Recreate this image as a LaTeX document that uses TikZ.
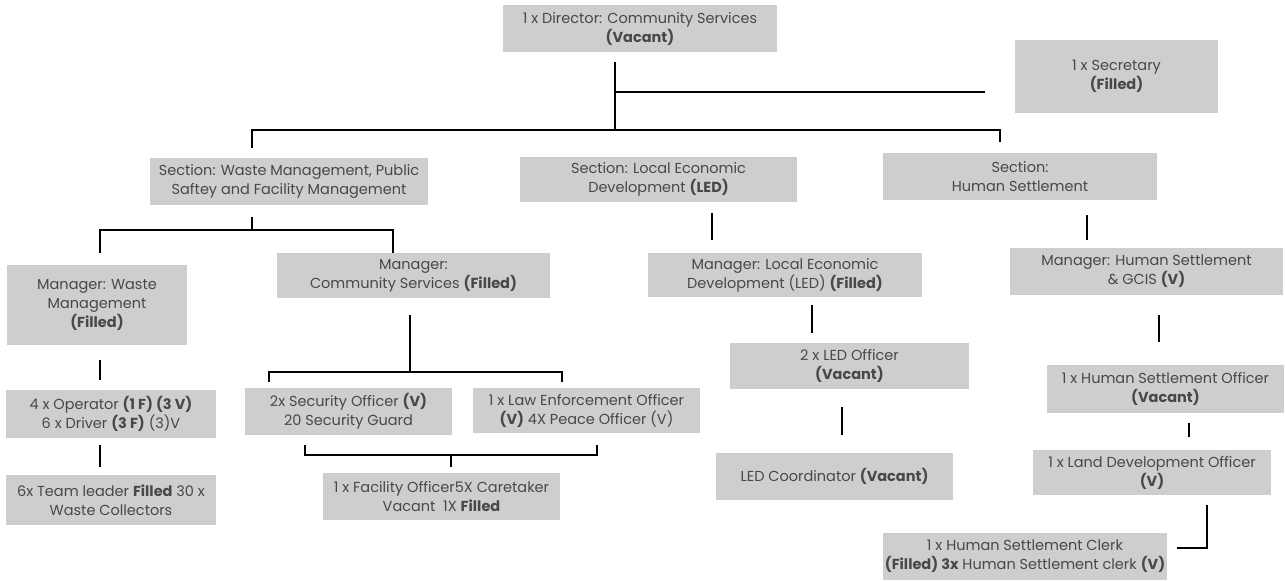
\documentclass[tikz,border=0pt]{standalone}
\usepackage{fontspec}
\setmainfont{Poppins}
\definecolor{boxfill}{RGB}{206,206,206}
\definecolor{ink}{RGB}{72,72,72}
\begin{document}
\begin{tikzpicture}[x=1pt,y=-1pt,
  post/.style={fill=boxfill,draw=none,inner sep=0pt,align=center,text=ink,
    font=\fontsize{14.5}{19}\selectfont},
  link/.style={draw=black,line width=1.1pt}]
\useasboundingbox[fill=white] (0,0) rectangle (1285,581);

% ---- posts ----
\node[post,minimum width=274,minimum height=47] (dir)   at (640,28.5)    {1 x Director: Community Services\\\textbf{(Vacant)}};
\node[post,minimum width=203,minimum height=73] (sec)   at (1116.5,76.5) {1 x Secretary\\\textbf{(Filled)}};
\node[post,minimum width=278,minimum height=47] (secW)  at (289,181.5)   {Section: Waste Management, Public\\Saftey and Facility Management};
\node[post,minimum width=277,minimum height=45] (secL)  at (658.5,179.5) {Section: Local Economic\\Development \textbf{(LED)}};
\node[post,minimum width=274,minimum height=47] (secH)  at (1020,176.5)  {Section:\\Human Settlement};
\node[post,minimum width=180,minimum height=80] (mW)    at (97,305)      {Manager: Waste\\Management\\\textbf{(Filled)}};
\node[post,minimum width=273,minimum height=45] (mC)    at (413.5,275.5) {Manager:\\Community Services \textbf{(Filled)}};
\node[post,minimum width=274,minimum height=44] (mL)    at (785,275)     {Manager: Local Economic\\Development (LED) \textbf{(Filled)}};
\node[post,minimum width=273,minimum height=47] (mH)    at (1146.5,271.5){Manager: Human Settlement\\\& GCIS \textbf{(V)}};
\node[post,minimum width=210,minimum height=48] (op)    at (111,414)     {4 x Operator \textbf{(1 F) (3 V)}\\6 x Driver \textbf{(3 F)} (3)V};
\node[post,minimum width=210,minimum height=50] (team)  at (111,500)     {6x Team leader \textbf{Filled} 30 x\\Waste Collectors};
\node[post,minimum width=207,minimum height=47] (secO)  at (348.5,411.5) {2x Security Officer \textbf{(V)}\\20 Security Guard};
\node[post,minimum width=227,minimum height=45] (law)   at (586.5,410.5) {1 x Law Enforcement Officer\\\textbf{(V)} 4X Peace Officer (V)};
\node[post,minimum width=237,minimum height=47] (fac)   at (441.5,496.5) {1 x Facility Officer5X Caretaker\\Vacant\ \ 1X \textbf{Filled}};
\node[post,minimum width=239,minimum height=46] (ledO)  at (849.5,366)   {2 x LED Officer\\\textbf{(Vacant)}};
\node[post,minimum width=237,minimum height=47] (ledC)  at (834.5,476.5) {LED Coordinator \textbf{(Vacant)}};
\node[post,minimum width=237,minimum height=48] (hsO)   at (1165.5,389)  {1 x Human Settlement Officer\\\textbf{(Vacant)}};
\node[post,minimum width=238,minimum height=45] (land)  at (1152,472.5)  {1 x Land Development Officer\\\textbf{(V)}};
\node[post,minimum width=284,minimum height=47] (clerk) at (1025,556.5)  {1 x Human Settlement Clerk\\\textbf{(Filled) 3x} Human Settlement clerk \textbf{(V)}};

% ---- line ends and junctions ----
\coordinate (dirA) at (615,62);   \coordinate (dirB) at (615,130);
\coordinate (dirS) at (615,92);   \coordinate (secE) at (985,92);
\coordinate (barL) at (252,130);  \coordinate (barR) at (1000,130);
\coordinate (barLd) at (252,148); \coordinate (barRd) at (1000,142);
\coordinate (wA) at (252,217);    \coordinate (wB) at (252,230);
\coordinate (wL) at (100,230);    \coordinate (wR) at (393,230);
\coordinate (wLd) at (100,253);   \coordinate (wRd) at (393,253);
\coordinate (lA) at (712,213);    \coordinate (lB) at (712,240);
\coordinate (hA) at (1087,215);   \coordinate (hB) at (1087,240);
\coordinate (mwA) at (100,360);   \coordinate (mwB) at (100,380);
\coordinate (opA) at (100,445);   \coordinate (opB) at (100,467);
\coordinate (mcA) at (410,315);   \coordinate (mcB) at (410,372);
\coordinate (mcL) at (269,372);   \coordinate (mcR) at (562,372);
\coordinate (mcLd) at (269,382);  \coordinate (mcRd) at (562,382);
\coordinate (brLu) at (305,445);  \coordinate (brRu) at (597,445);
\coordinate (brL) at (305,455);   \coordinate (brR) at (597,455);
\coordinate (brM) at (451,455);   \coordinate (brMd) at (451,467);
\coordinate (mlA) at (812,305);   \coordinate (mlB) at (812,333);
\coordinate (loA) at (842,407);   \coordinate (loB) at (842,435);
\coordinate (mhA) at (1159,315);  \coordinate (mhB) at (1159,342);
\coordinate (hoA) at (1189,423);  \coordinate (hoB) at (1189,437);
\coordinate (ldA) at (1207,505);  \coordinate (ldB) at (1207,548);
\coordinate (clE) at (1177,548);

% ---- connectors ----
\draw[link] (dirA) -- (dirB);
\draw[link] (dirS) -- (secE);
\draw[link] (barLd) -- (barL) -- (barR) -- (barRd);
\draw[link] (wA) -- (wB);
\draw[link] (wLd) -- (wL) -- (wR) -- (wRd);
\draw[link] (lA) -- (lB);
\draw[link] (hA) -- (hB);
\draw[link] (mwA) -- (mwB);
\draw[link] (opA) -- (opB);
\draw[link] (mcA) -- (mcB);
\draw[link] (mcLd) -- (mcL) -- (mcR) -- (mcRd);
\draw[link] (brLu) -- (brL) -- (brR) -- (brRu);
\draw[link] (brM) -- (brMd);
\draw[link] (mlA) -- (mlB);
\draw[link] (loA) -- (loB);
\draw[link] (mhA) -- (mhB);
\draw[link] (hoA) -- (hoB);
\draw[link] (ldA) -- (ldB) -- (clE);
\end{tikzpicture}
\end{document}
